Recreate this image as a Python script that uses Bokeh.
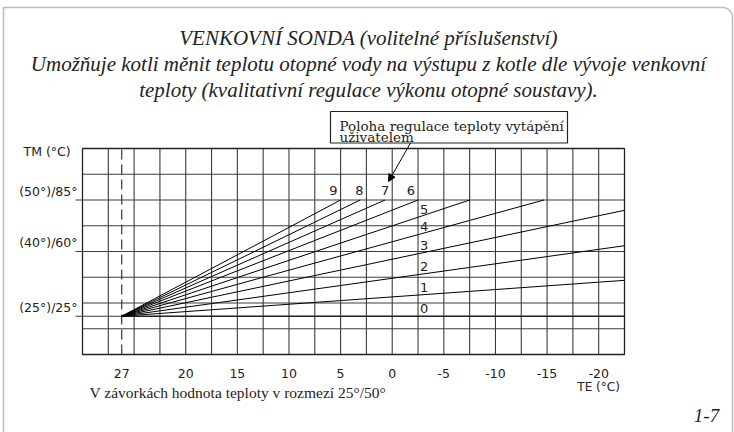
import math
from bokeh.plotting import figure
from bokeh.models import Range1d, Label, Arrow, NormalHead, PolyAnnotation, BoxAnnotation
from bokeh.core.properties import value
from bokeh.embed import file_html
from bokeh.resources import INLINE

# ---------------- data ----------------
te_grid = [27.5, 25, 22.5, 20, 17.5, 15, 12.5, 10, 7.5, 5, 2.5, 0,
           -2.5, -5, -7.5, -10, -12.5, -15, -17.5, -20]
tm_grid = [97.5, 85, 72.5, 60, 47.5, 35, 28.6, 22.5]
te_min, te_max = -22.5, 30          # diagram frame (outdoor temperature, reversed)
tm_min, tm_max = 10, 110            # diagram frame (flow temperature)
te_tick_values = [26.2, 20, 15, 10, 5, 0, -5, -10, -15, -20]
te_tick_labels = ["27", "20", "15", "10", "5", "0", "-5", "-10", "-15", "-20"]
tm_tick_values = [85, 60, 28.6]
tm_tick_labels = ["(50°)/85°", "(40°)/60°", "(25°)/25°"]
origin_te = 26.2
origin_tm = 28.6
curve_names = ["0", "1", "2", "3", "4", "5", "6", "7", "8", "9"]
curve_end_te = [-22.5, -22.5, -22.5, -22.5, -14.7, -7.5, -2.5, 0.7, 3.1, 5.0]
curve_end_tm = [28.6, 46.0, 62.8, 80.0, 85, 85, 85, 85, 85, 85]

title_lines = ["VENKOVNÍ SONDA (volitelné příslušenství)",
               "Umožňuje kotli měnit teplotu otopné vody na výstupu z kotle dle vývoje venkovní",
               "teploty (kvalitativní regulace výkonu otopné soustavy)."]
box_lines = ["Poloha regulace teploty vytápění", "uživatelem"]
note_text = "V závorkách hodnota teploty v rozmezí 25°/50°"

# ---------------- layout (pixels on the 734x432 canvas) ----------------
W, H = 734, 432
FL, FT, FR, FB = 82, 148, 624, 354   # where the diagram frame sits


def px2te(px):
    return te_max + (px - FL) * (te_min - te_max) / (FR - FL)


def py2tm(py):
    return tm_max - (py - FT) * (tm_max - tm_min) / (FB - FT)


XPX = (te_max - te_min) / (FR - FL)   # data per pixel (x)
YPX = (tm_max - tm_min) / (FB - FT)   # data per pixel (y)

p = figure(width=W, height=H, x_range=Range1d(px2te(0), px2te(W)),
           y_range=Range1d(py2tm(H), py2tm(0)),
           output_backend="svg", toolbar_location=None,
           x_axis_location=None, y_axis_location=None,
           min_border=0, min_border_left=0, min_border_right=0,
           min_border_top=0, min_border_bottom=0)
p.background_fill_color = "white"
p.border_fill_color = "white"
p.outline_line_color = None
p.xgrid.grid_line_color = None
p.ygrid.grid_line_color = None

GRID_COL = "#3c3c3c"
TXT = "#222222"
SANS = "DejaVu Sans"

# grid
p.segment(x0=te_grid, x1=te_grid, y0=[tm_min] * len(te_grid), y1=[tm_max] * len(te_grid),
          line_color=GRID_COL, line_width=1.1)
p.segment(x0=[te_max] * len(tm_grid), x1=[te_min] * len(tm_grid), y0=tm_grid, y1=tm_grid,
          line_color=GRID_COL, line_width=1.1)
# left tick marks
p.segment(x0=[te_max] * len(tm_tick_values), x1=[te_max + 7 * XPX] * len(tm_tick_values),
          y0=tm_tick_values, y1=tm_tick_values, line_color=GRID_COL, line_width=1.1)
# frame
p.quad(left=[te_max], right=[te_min], bottom=[tm_min], top=[tm_max],
       fill_color=None, line_color=TXT, line_width=1.3)

# tick labels
p.text(x=te_tick_values, y=[tm_min - 19 * YPX] * len(te_tick_values), text=te_tick_labels,
       text_align="center", text_baseline="middle", text_font=value(SANS),
       text_font_size="12.5px", text_color=TXT)
p.text(x=[te_max + 5 * XPX] * len(tm_tick_values), y=[v + 9 * YPX for v in tm_tick_values],
       text=tm_tick_labels, text_align="right", text_baseline="middle",
       text_font=value(SANS), text_font_size="12.5px", text_color=TXT)
p.add_layout(Label(x=px2te(23), y=py2tm(150.5), text="TM (°C)", text_align="left",
                   text_baseline="middle", text_font=SANS, text_font_size="12.5px",
                   text_color=TXT))
p.add_layout(Label(x=px2te(600), y=py2tm(386), text="TE  (°C)", text_align="center",
                   text_baseline="middle", text_font=SANS, text_font_size="12px",
                   text_color=TXT))

# dashed line at 27 °C
p.segment(x0=[origin_te], x1=[origin_te], y0=[tm_min], y1=[tm_max], line_color="#333333",
          line_width=1.2, line_dash="10 5")

# heating curves
p.segment(x0=[origin_te] * len(curve_names), y0=[origin_tm] * len(curve_names),
          x1=curve_end_te, y1=curve_end_tm, line_color="black", line_width=1)

# curve labels
for name, xe, ye in zip(curve_names, curve_end_te, curve_end_tm):
    if ye >= 85 and xe > -5:
        gx = math.floor(xe / 2.5 + 1e-6) * 2.5
        p.add_layout(Label(x=gx + 3 * XPX, y=85 + 9.5 * YPX, text=name,
                           text_align="right", text_baseline="middle",
                           text_font=SANS, text_font_size="13px", text_color=TXT))
    else:
        xl = -2.5
        yc = origin_tm + (ye - origin_tm) * (origin_te - xl) / (origin_te - xe)
        p.add_layout(Label(x=xl - 2 * XPX, y=yc + 8 * YPX, text=name,
                           text_align="left", text_baseline="middle",
                           text_font=SANS, text_font_size="13px", text_color=TXT))

# callout box + arrow
p.add_layout(BoxAnnotation(left=px2te(330), right=px2te(567), top=py2tm(111),
                           bottom=py2tm(142.5), fill_color="white", fill_alpha=1,
                           line_color=TXT, line_width=1.2, line_alpha=1))
p.add_layout(Label(x=px2te(339), y=py2tm(125.7), text=box_lines[0], text_align="left",
                   text_baseline="alphabetic", text_font="DejaVu Serif",
                   text_font_size="13.5px", text_color=TXT))
p.add_layout(Label(x=px2te(339), y=py2tm(136.7), text=box_lines[1], text_align="left",
                   text_baseline="alphabetic", text_font="DejaVu Serif",
                   text_font_size="13.5px", text_color=TXT))
p.add_layout(Arrow(x_start=px2te(410), y_start=py2tm(142.5), x_end=px2te(388),
                   y_end=py2tm(181), line_color="black", line_width=1,
                   end=NormalHead(size=7, fill_color="black", line_color="black")))

# titles
for i, t in enumerate(title_lines):
    p.add_layout(Label(x=px2te(368), y=py2tm(37 + 26 * i), text=t, text_align="center",
                       text_baseline="middle", text_font="Liberation Serif",
                       text_font_style="italic", text_font_size="21px",
                       text_color=TXT))

p.add_layout(Label(x=px2te(89), y=py2tm(392), text=note_text, text_align="left",
                   text_baseline="middle", text_font="Liberation Serif",
                   text_font_size="15.5px", text_color=TXT))
p.add_layout(Label(x=px2te(706), y=py2tm(415), text="1-7", text_align="center",
                   text_baseline="middle", text_font="Liberation Serif",
                   text_font_style="italic", text_font_size="19px", text_color=TXT))

# outer frame with rounded top-right corner
fx_l, fy_t, fx_r, fy_b, r = 3, 7, 732, 460, 10
xs = [fx_l, fx_l]
ys = [fy_b, fy_t]
for k in range(0, 11):
    a = math.pi / 2 - k * (math.pi / 2) / 10
    xs.append(fx_r - r + r * math.cos(a))
    ys.append(fy_t + r - r * math.sin(a))
xs.append(fx_r)
ys.append(fy_b)
p.add_layout(PolyAnnotation(xs=[px2te(v) for v in xs], ys=[py2tm(v) for v in ys],
                            fill_alpha=0, line_color=TXT, line_width=1.5))

open("out.html", "w").write(file_html(p, INLINE))
